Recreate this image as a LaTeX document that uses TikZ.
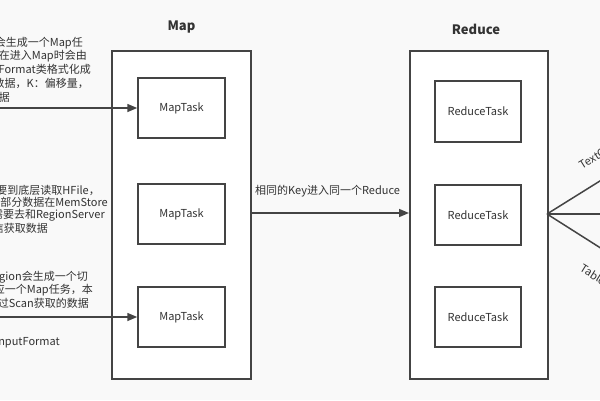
\documentclass[tikz,border=0pt]{standalone}
\usepackage{fontspec}
\setmainfont{Noto Sans CJK SC}
\usetikzlibrary{arrows.meta}
\definecolor{ln}{HTML}{444444}
\definecolor{tx}{HTML}{333333}
\definecolor{bg}{HTML}{F9F9F9}
\begin{document}
\begin{tikzpicture}[x=1pt,y=-1pt,
  box/.style={draw=ln,line width=1.5pt,fill=white,inner sep=0pt},
  task/.style={box,minimum width=87pt,minimum height=60pt,font=\fontsize{11}{13}\selectfont,text=tx},
  lbl/.style={font=\fontsize{11}{13}\selectfont,text=tx,inner sep=0pt},
  conn/.style={draw=ln,line width=1.5pt},
  arr/.style={conn,-{Triangle[length=10pt,width=8pt]}},
  head/.style={font=\bfseries\fontsize{13}{15}\selectfont,text=tx,inner sep=0pt}]
\useasboundingbox (0,0) rectangle (600,400);
\fill[bg] (0,0) rectangle (600,400);
\clip (0,0) rectangle (600,400);

% headings
\node[head] (hmap) at (181.5,27) {Map};
\node[head] (hred) at (476,29) {Reduce};

% big boxes
\node[box,anchor=north west,minimum width=139pt,minimum height=328pt] (map) at (111,50) {};
\node[box,anchor=north west,minimum width=138pt,minimum height=328pt] (red) at (409,50) {};

% tasks
\node[task] (mt1) at (181.5,108) {MapTask};
\node[task] (mt2) at (181.5,214) {MapTask};
\node[task] (mt3) at (181.5,317) {MapTask};
\node[task,minimum width=86pt,minimum height=61pt] (rt1) at (478,111.5) {ReduceTask};
\node[task,minimum width=86pt] (rt2) at (478,215) {ReduceTask};
\node[task,minimum width=86pt] (rt3) at (478,317) {ReduceTask};

% input arrows
\coordinate (in1) at (-10,108);
\coordinate (in3) at (-10,317);
\draw[arr] (in1) -- (mt1.west);
\draw[arr] (in3) -- (mt3.west);

% shuffle arrow
\coordinate (mid) at (250,213);
\draw[arr] (map.east |- mid) -- (red.west |- mid);
\node[lbl,anchor=west] (key) at (255,191) {相同的Key进入同一个Reduce};

% outputs
\coordinate (src) at (547,214);
\coordinate (o1) at (640,156);
\coordinate (o2) at (640,214);
\coordinate (o3) at (640,273);
\draw[conn] (src) -- (o1);
\draw[conn] (src) -- (o2);
\draw[conn] (src) -- (o3);
\node[lbl,anchor=south west,rotate=32] (tof) at (584,172) {TextOutputFormat};
\node[lbl,anchor=north west,rotate=-32] (tbof) at (584,263) {TableOutputFormat};

% left text block 1
\node[lbl,anchor=east] (a1) at (83,43) {每个Region会生成一个Map任};
\node[lbl,anchor=east] (a2) at (87,56) {务，任务在进入Map时会由};
\node[lbl,anchor=east] (a3) at (91,70) {TableInputFormat类格式化成};
\node[lbl,anchor=east] (a4) at (89,83) {K-V数据，K：偏移量，};
\node[lbl,anchor=east] (a5) at (10,97) {V：行数据};

% left text block 2
\node[lbl,anchor=east] (b1) at (100,190) {需要到底层读取HFile，};
\node[lbl,anchor=east] (b2) at (108,202) {部分数据在MemStore};
\node[lbl,anchor=east] (b3) at (105,215) {中，需要去和RegionServer};
\node[lbl,anchor=east] (b4) at (48,228) {通信获取数据};

% left text block 3
\node[lbl,anchor=east] (c1) at (88,277) {每个Region会生成一个切};
\node[lbl,anchor=east] (c2) at (93,290) {片，对应一个Map任务，本};
\node[lbl,anchor=east] (c3) at (89,303) {质上是通过Scan获取的数据};
\node[lbl,anchor=east] (c4) at (60,342) {TableInputFormat};
\end{tikzpicture}
\end{document}
